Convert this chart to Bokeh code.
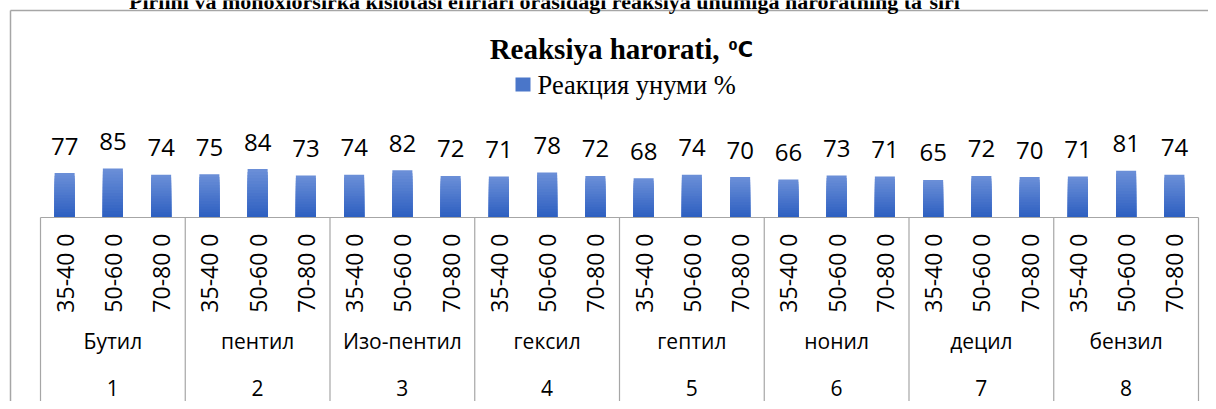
import math
from bokeh.plotting import figure
from bokeh.models import Range1d
from bokeh.core.properties import value
from bokeh.embed import file_html
from bokeh.resources import INLINE

# ---------------- data ----------------
numbers = ["1", "2", "3", "4", "5", "6", "7", "8"]
groups = ["Бутил", "пентил", "Изо-пентил", "гексил", "гептил", "нонил", "децил", "бензил"]
temps = ["35-40 0", "50-60 0", "70-80 0"]
yields = [77, 85, 74, 75, 84, 73, 74, 82, 72, 71, 78, 72,
          68, 74, 70, 66, 73, 71, 65, 72, 70, 71, 81, 74]
series_name = "Реакция унуми %"
chart_title = "Reaksiya harorati,"
chart_title_unit = "⁰C"
top_title = "Pirlini va monoxlorsirka kislotasi efirlari orasidagi reaksiya unumiga haroratning ta`siri"

# ---------------- layout (pixels) ----------------
W, H = 1208, 401
PLOT_L, PLOT_R = 40, 1198      # plot area left / right
BASE = 217                     # baseline (value 0)
PX_PER_UNIT = 0.577            # pixels per yield unit

n = len(yields)
U = n / (PLOT_R - PLOT_L)      # x data units per pixel
x_start = -PLOT_L * U
x_end = x_start + W * U
PX = 1.0 / PX_PER_UNIT         # y data units per pixel
y_end = BASE * PX
y_start = y_end - H * PX


def X(cx):
    return x_start + cx * U


def Y(cy):
    return y_end - cy * PX


p = figure(width=W, height=H, x_range=Range1d(x_start, x_end), y_range=Range1d(y_start, y_end),
           output_backend="svg", toolbar_location=None, min_border=0, title=None,
           x_axis_location=None, y_axis_location=None)
p.grid.visible = False
p.outline_line_color = None
p.background_fill_color = "white"
p.border_fill_color = "white"

SANS = value("Open Sans")
SERIF = value("Liberation Serif")

# chart border (left & top visible)
p.segment(x0=[X(10), X(10)], y0=[Y(10), Y(10)], x1=[X(10), X(W + 20)], y1=[Y(H + 20), Y(10)],
          line_color="#A6A6A6", line_width=1.5)

# bars with a vertical gradient
xs = [i + 0.5 for i in range(n)]
top_c = (0x6C, 0x90, 0xD8)
bot_c = (0x2C, 0x5E, 0xC0)
N = 16
for k in range(N):
    f = (k + 0.5) / N
    c = tuple(int(round(top_c[j] + (bot_c[j] - top_c[j]) * f)) for j in range(3))
    col = "#%02x%02x%02x" % c
    p.vbar(x=xs, top=[v * (1 - k / N) for v in yields], bottom=0, width=0.415,
           fill_color=col, line_color=None)

# data labels
p.text(x=xs, y=[v + 27 * PX for v in yields], text=[str(v) for v in yields],
       text_align="center", text_baseline="middle", text_font=SANS,
       text_font_size="24px", text_color="#000000")

# category axis: baseline + separators
p.segment(x0=[0], y0=[0], x1=[n], y1=[0], line_color="#A6A6A6", line_width=1.2)
sep_x = [3 * k for k in range(len(groups) + 1)]
p.segment(x0=sep_x, y0=[0] * len(sep_x), x1=sep_x, y1=[-185 * PX] * len(sep_x),
          line_color="#A6A6A6", line_width=1.2)

# level 1: temperature labels (rotated)
p.text(x=xs, y=[-16 * PX] * n, text=[temps[i % 3] for i in range(n)], angle=math.pi / 2,
       text_align="right", text_baseline="middle", text_font=SANS,
       text_font_size="23px", text_color="#000000")

# level 2: group names
gx = [3 * g + 1.5 for g in range(len(groups))]
p.text(x=gx, y=[-123 * PX] * len(groups), text=groups, text_align="center",
       text_baseline="middle", text_font=SANS, text_font_size="21px", text_color="#000000")

# level 3: numbers
p.text(x=gx, y=[-170 * PX] * len(numbers), text=numbers, text_align="center",
       text_baseline="middle", text_font=SANS, text_font_size="21px", text_color="#000000")

# titles
p.text(x=[X(544)], y=[Y(0.5)], text=[top_title], text_align="center", text_baseline="middle",
       text_font=SERIF, text_font_style="bold", text_font_size="22px", text_color="#000000")
p.text(x=[X(719)], y=[Y(48)], text=[chart_title], text_align="right", text_baseline="middle",
       text_font=SERIF, text_font_style="bold", text_font_size="29px", text_color="#000000")
p.text(x=[X(728)], y=[Y(49.5)], text=[chart_title_unit], text_align="left", text_baseline="middle",
       text_font=value("DejaVu Sans"), text_font_style="bold", text_font_size="21px",
       text_color="#000000")

# legend
p.quad(left=[X(515)], right=[X(530)], top=[Y(77)], bottom=[Y(91)],
       fill_color="#4A76C9", line_color=None)
p.text(x=[X(537)], y=[Y(84)], text=[series_name], text_align="left", text_baseline="middle",
       text_font=SERIF, text_font_size="26.5px", text_color="#000000")

open("out.html", "w").write(file_html(p, INLINE))
